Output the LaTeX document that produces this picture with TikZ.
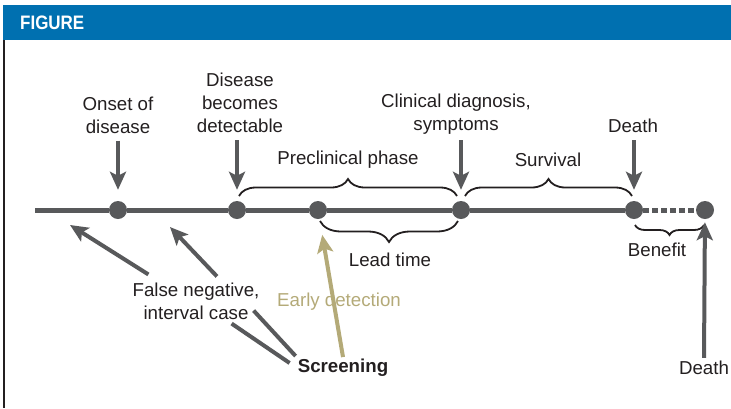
\documentclass[tikz,border=0pt]{standalone}
\usepackage{fontspec}
\setmainfont{Liberation Sans}
\usepackage{tikz}
\usetikzlibrary{arrows.meta,calc,decorations.pathreplacing}
\definecolor{tlgray}{RGB}{88,89,91}
\definecolor{khaki}{RGB}{180,170,120}
\definecolor{hdrblue}{RGB}{0,112,176}
\definecolor{txt}{RGB}{35,31,32}

\begin{document}
\begin{tikzpicture}[x=1pt,y=-1pt,>={Stealth[length=18pt,width=16pt,inset=4pt]},
  dot/.style={circle,fill=tlgray,minimum size=18pt,inner sep=0pt},
  lbl/.style={align=center,text=txt,font=\fontsize{18.7}{23}\selectfont,inner sep=2pt},
  pointer/.style={->,color=tlgray,line width=4pt},
  brc/.style={decorate,decoration={brace,amplitude=#1},draw=txt,line width=1.8pt},
  brcm/.style={decorate,decoration={brace,mirror,amplitude=#1},draw=txt,line width=1.8pt}]
 		\useasboundingbox (0,0) rectangle (731,408);
 		% header
 		\fill[hdrblue] (3,5) rectangle (731,40);
 		\node[anchor=west,text=white,inner sep=0pt,font=\bfseries\fontsize{19.5}{20}\selectfont] (fig) at (20,22.5) {\scalebox{0.87}[1]{FIGURE}};
 		\draw[line width=2pt,txt] (4,40) -- (4,408);

 		% time line
 		\coordinate (tl) at (35,210);
 		\node[dot] (on)  at (118,210) {};
 		\node[dot] (det) at (237,210) {};
 		\node[dot] (scr) at (318,210) {};
 		\node[dot] (cli) at (461,210) {};
 		\node[dot] (dth) at (634,210) {};
 		\node[dot] (ben) at (705,210) {};
 		\draw[tlgray,line width=5pt] (tl) -- (on) -- (det) -- (scr) -- (cli) -- (dth);
 		\draw[tlgray,line width=5pt,dash pattern=on 6pt off 3pt] (dth) -- (ben);

 		% events above
 		\node[lbl] (onl)  at (118,115) {Onset of\\disease};
 		\node[lbl] (detl) at (240,103) {Disease\\becomes\\detectable};
 		\node[lbl] (clil) at (456,114) {Clinical diagnosis,\\symptoms};
 		\node[lbl] (dthl) at (633,126) {Death};
 		\draw[pointer,shorten <=5pt,shorten >=11pt] (onl.south) -- (on);
 		\draw[pointer,shorten <=5pt,shorten >=11pt] (det |- detl.south) -- (det);
 		\draw[pointer,shorten <=4pt,shorten >=11pt] (cli |- clil.south) -- (cli);
 		\draw[pointer,shorten <=5pt,shorten >=11pt] (dth |- dthl.south) -- (dth);

 		% braces
 		\node[lbl] (pre)  at (348,160) {Preclinical phase};
 		\node[lbl] (sur)  at (548,160) {Survival};
 		\node[lbl] (lead) at (390,260) {Lead time};
 		\node[lbl] (bnf)  at (657,250) {Benefit};
 		\draw[brc=17pt] ($(det)+(2,-14)$) -- ($(cli)+(-4,-14)$);
 		\draw[brc=17pt] ($(cli)+(4,-14)$) -- ($(dth)+(-2,-14)$);
 		\draw[brcm=21pt] ($(scr)+(2,11)$) -- ($(cli)+(-3,11)$);
 		\draw[brcm=10pt] ($(dth)+(1,15)$) -- ($(ben)+(-1,15)$);

 		% screening
 		\node[lbl] (fneg) at (196,301) {False negative,\\interval case};
 		\node[lbl,font=\bfseries\fontsize{18.7}{23}\selectfont] (scrn) at (343,368) {Screening};
 		\node[lbl] (dthb) at (704,368) {Death};
 		\coordinate (fn1) at (70,225);
 		\coordinate (fn2) at (170,227);
 		\draw[pointer] ([shift={(18,-6)}]fneg.north west) -- (fn1);
 		\draw[pointer] ([shift={(21,-4)}]fneg.north) -- (fn2);
 		\draw[tlgray,line width=4pt] ([shift={(-30,2)}]fneg.south east) -- ([shift={(-6,-5)}]scrn.west);
 		\draw[tlgray,line width=4pt] ([shift={(-8,-11)}]fneg.south east) -- ([shift={(0,-1)}]scrn.north west);
 		\draw[pointer,color=khaki,shorten >=16pt] (scrn.north) -- (scr);
 		\node[lbl,text=khaki] (early) at (339,302) {Early detection};
 		\draw[pointer,shorten <=1pt,shorten >=3pt] (dthb.north) -- (ben);
\end{tikzpicture}
\end{document}
